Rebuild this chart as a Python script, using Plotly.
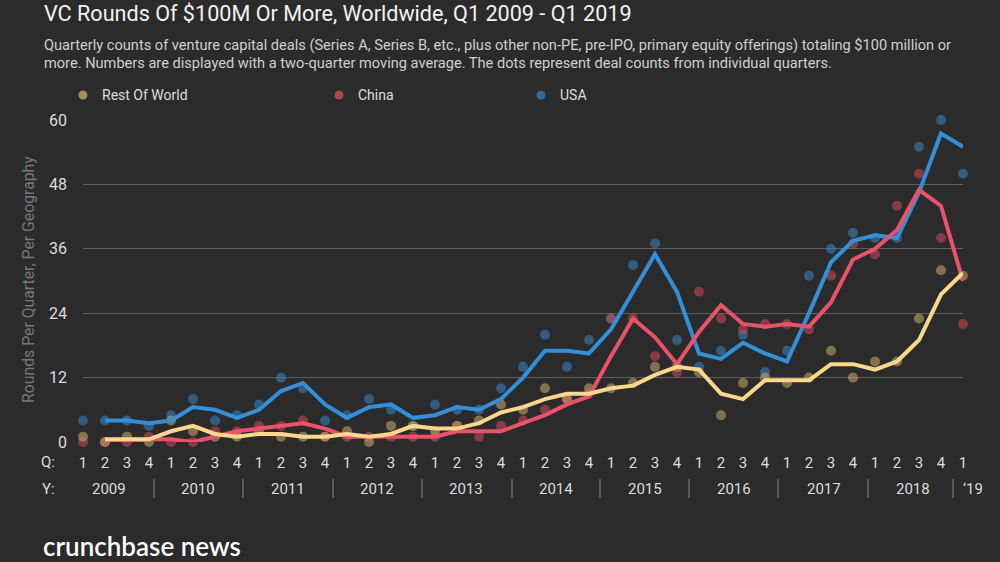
import plotly.graph_objects as go

# ---------------- data ----------------
quarters = list(range(41))  # Q1 2009 .. Q1 2019
quarter_labels = ["1", "2", "3", "4"] * 10 + ["1"]
year_labels = ["2009", "2010", "2011", "2012", "2013", "2014", "2015",
               "2016", "2017", "2018", "\u201819"]
series_names = ["Rest Of World", "China", "USA"]

usa_dots = [4, 4, 4, 3, 5, 8, 4, 5, 7, 12, 10, 4, 5, 8, 6, 3, 7, 6, 6, 10,
            14, 20, 14, 19, 23, 33, 37, 19, 14, 17, 20, 13, 17, 31, 36, 39, 38, 38, 55, 60, 50]
china_dots = [0, 0, 0, 1, 0, 0, 2, 2, 3, 3, 4, 1, 1, 1, 1, 1, 1, 3, 1, 3,
              4, 6, 8, 9, 23, 23, 16, 13, 28, 23, 21, 22, 22, 21, 31, 37, 35, 44, 50, 38, 22]
row_dots = [1, 0, 1, 0, 4, 2, 1, 1, 2, 1, 1, 1, 2, 0, 3, 3, 2, 3, 4, 7,
            6, 10, 8, 10, 10, 11, 14, 14, 13, 5, 11, 12, 11, 12, 17, 12, 15, 15, 23, 32, 31]

# two-quarter moving average lines
usa_avg = [None, 4, 4, 3.5, 4, 6.5, 6, 4.5, 6, 9.5, 11, 7, 4.5, 6.5, 7, 4.5, 5, 6.5, 6, 8,
           12, 17, 17, 16.5, 21, 28, 35, 28, 16.5, 15.5, 18.5, 16.5, 15, 24, 33.5, 37.5,
           38.5, 38, 46.5, 57.5, 55]
china_avg = [None, 0, 0, 0.5, 0.5, 0, 1, 2, 2.5, 3, 3.5, 2.5, 1, 1, 1, 1, 1, 2, 2, 2,
             3.5, 5, 7, 8.5, 16, 23, 19.5, 14.5, 20.5, 25.5, 22, 21.5, 22, 21.5, 26, 34,
             36, 39.5, 47, 44, 30]
row_avg = [None, 0.5, 0.5, 0.5, 2, 3, 1.5, 1, 1.5, 1.5, 1, 1, 1.5, 1, 1.5, 3, 2.5, 2.5, 3.5, 5.5,
           6.5, 8, 9, 9, 10, 10.5, 12.5, 14, 13.5, 9, 8, 11.5, 11.5, 11.5, 14.5, 14.5,
           13.5, 15, 19, 27.5, 31.5]
y_ticks = [0, 12, 24, 36, 48, 60]

# ---------------- style ----------------
BG = "#2b2b2b"
LINE_COL = {"Rest Of World": "#f9d78c", "China": "#e8536a", "USA": "#338fd8"}
DOT_COL = {"Rest Of World": "rgba(190,160,100,0.6)", "China": "rgba(200,70,85,0.6)",
           "USA": "rgba(55,125,185,0.6)"}
LEG_COL = {"Rest Of World": "#a88c59", "China": "#b3454f", "USA": "#2f6b9c"}

L, R, T, B = 83, 963, 120, 442  # plot area in pixels
W, H = 1000, 562


def px(x):
    return (x - L) / (R - L)


def py(y):
    return (B - y) / (B - T)


dots = {"Rest Of World": row_dots, "China": china_dots, "USA": usa_dots}
avgs = {"Rest Of World": row_avg, "China": china_avg, "USA": usa_avg}

fig = go.Figure()
for name in ["USA", "China", "Rest Of World"]:
    fig.add_trace(go.Scatter(x=quarters, y=dots[name], mode="markers",
                             marker=dict(size=10, color=DOT_COL[name], line=dict(width=0)),
                             cliponaxis=False, hoverinfo="skip", showlegend=False))
for name in ["USA", "China", "Rest Of World"]:
    fig.add_trace(go.Scatter(x=quarters, y=avgs[name], mode="lines", name=name,
                             line=dict(color=LINE_COL[name], width=4),
                             cliponaxis=False, showlegend=False))

annotations = []
shapes = []

# title & subtitle
annotations.append(dict(text="VC Rounds Of $100M Or More, Worldwide, Q1 2009 - Q1 2019",
                        x=px(42), y=py(13), xref="paper", yref="paper", xanchor="left",
                        yanchor="middle", showarrow=False,
                        font=dict(family="Roboto", size=21.6, color="#f2f2f2")))
sub1 = ("Quarterly counts of venture capital deals (Series A, Series B, etc., plus other non-PE, "
        "pre-IPO, primary equity offerings) totaling $100 million or")
sub2 = ("more. Numbers are displayed with a two-quarter moving average. The dots represent deal "
        "counts from individual quarters.")
for txt, yy in [(sub1, 45), (sub2, 63)]:
    annotations.append(dict(text=txt, x=px(42), y=py(yy), xref="paper", yref="paper",
                            xanchor="left", yanchor="middle", showarrow=False,
                            font=dict(family="Roboto", size=14.6, color="#cfcfcf")))

# legend
for name, mx in zip(series_names, [83, 339, 541]):
    shapes.append(dict(type="circle", xref="paper", yref="paper", xsizemode="pixel",
                       ysizemode="pixel", xanchor=px(mx), yanchor=py(95),
                       x0=-4.5, x1=4.5, y0=-4.5, y1=4.5,
                       fillcolor=LEG_COL[name], line=dict(width=0)))
    annotations.append(dict(text=name, x=px(mx + 17), y=py(95), xref="paper", yref="paper",
                            xanchor="left", yanchor="middle", showarrow=False,
                            font=dict(family="Roboto", size=14, color="#dddddd")))

# y axis title
annotations.append(dict(text="Rounds Per Quarter, Per Geography", x=px(28), y=py(280),
                        xref="paper", yref="paper", xanchor="center", yanchor="middle",
                        textangle=-90, showarrow=False,
                        font=dict(family="Roboto", size=15.8, color="#787878")))

# Q: / Y: row labels
for txt, yy in [("Q:", 462), ("Y:", 489)]:
    annotations.append(dict(text=txt, x=px(48), y=py(yy), xref="paper", yref="paper",
                            xanchor="center", yanchor="middle", showarrow=False,
                            font=dict(family="Roboto", size=15, color="#dddddd")))

# year labels and separators
year_center_px = [109 + 89.35 * k for k in range(10)] + [973]
year_sep_px = [154, 243, 333, 422, 512, 600, 689, 778, 868, 953]
for lab, cx in zip(year_labels, year_center_px):
    annotations.append(dict(text=lab, x=px(cx), y=py(489), xref="paper", yref="paper",
                            xanchor="center", yanchor="middle", showarrow=False,
                            font=dict(family="Roboto", size=15, color="#dddddd")))
for sx in year_sep_px:
    shapes.append(dict(type="line", xref="paper", yref="paper", x0=px(sx), x1=px(sx),
                       y0=py(479), y1=py(498), line=dict(color="#8a8a8a", width=1)))

# logo text
annotations.append(dict(text="crunchbase news", x=px(41), y=py(546), xref="paper",
                        yref="paper", xanchor="left", yanchor="middle", showarrow=False,
                        font=dict(family="Lato", size=26, color="#ffffff", weight=600)))

fig.update_layout(
    width=W, height=H, autosize=False,
    paper_bgcolor=BG, plot_bgcolor=BG,
    margin=dict(l=L, r=W - R, t=T, b=H - B, pad=0),
    showlegend=False,
    annotations=annotations, shapes=shapes,
    xaxis=dict(range=[0, 40], tickmode="array", tickvals=quarters, ticktext=quarter_labels,
               showgrid=False, zeroline=False, showline=False, ticks="",
               tickfont=dict(family="Roboto", size=15, color="#dddddd"),
               ticklabelstandoff=10, fixedrange=True),
    yaxis=dict(range=[0, 60], tickmode="array", tickvals=y_ticks,
               showgrid=True, gridcolor="#5f5f5f", gridwidth=1,
               zeroline=False, showline=False, ticks="",
               tickfont=dict(family="Roboto", size=16, color="#dddddd"),
               ticklabelstandoff=15, fixedrange=True),
    hovermode=False,
)

fig.write_html("out.html")
